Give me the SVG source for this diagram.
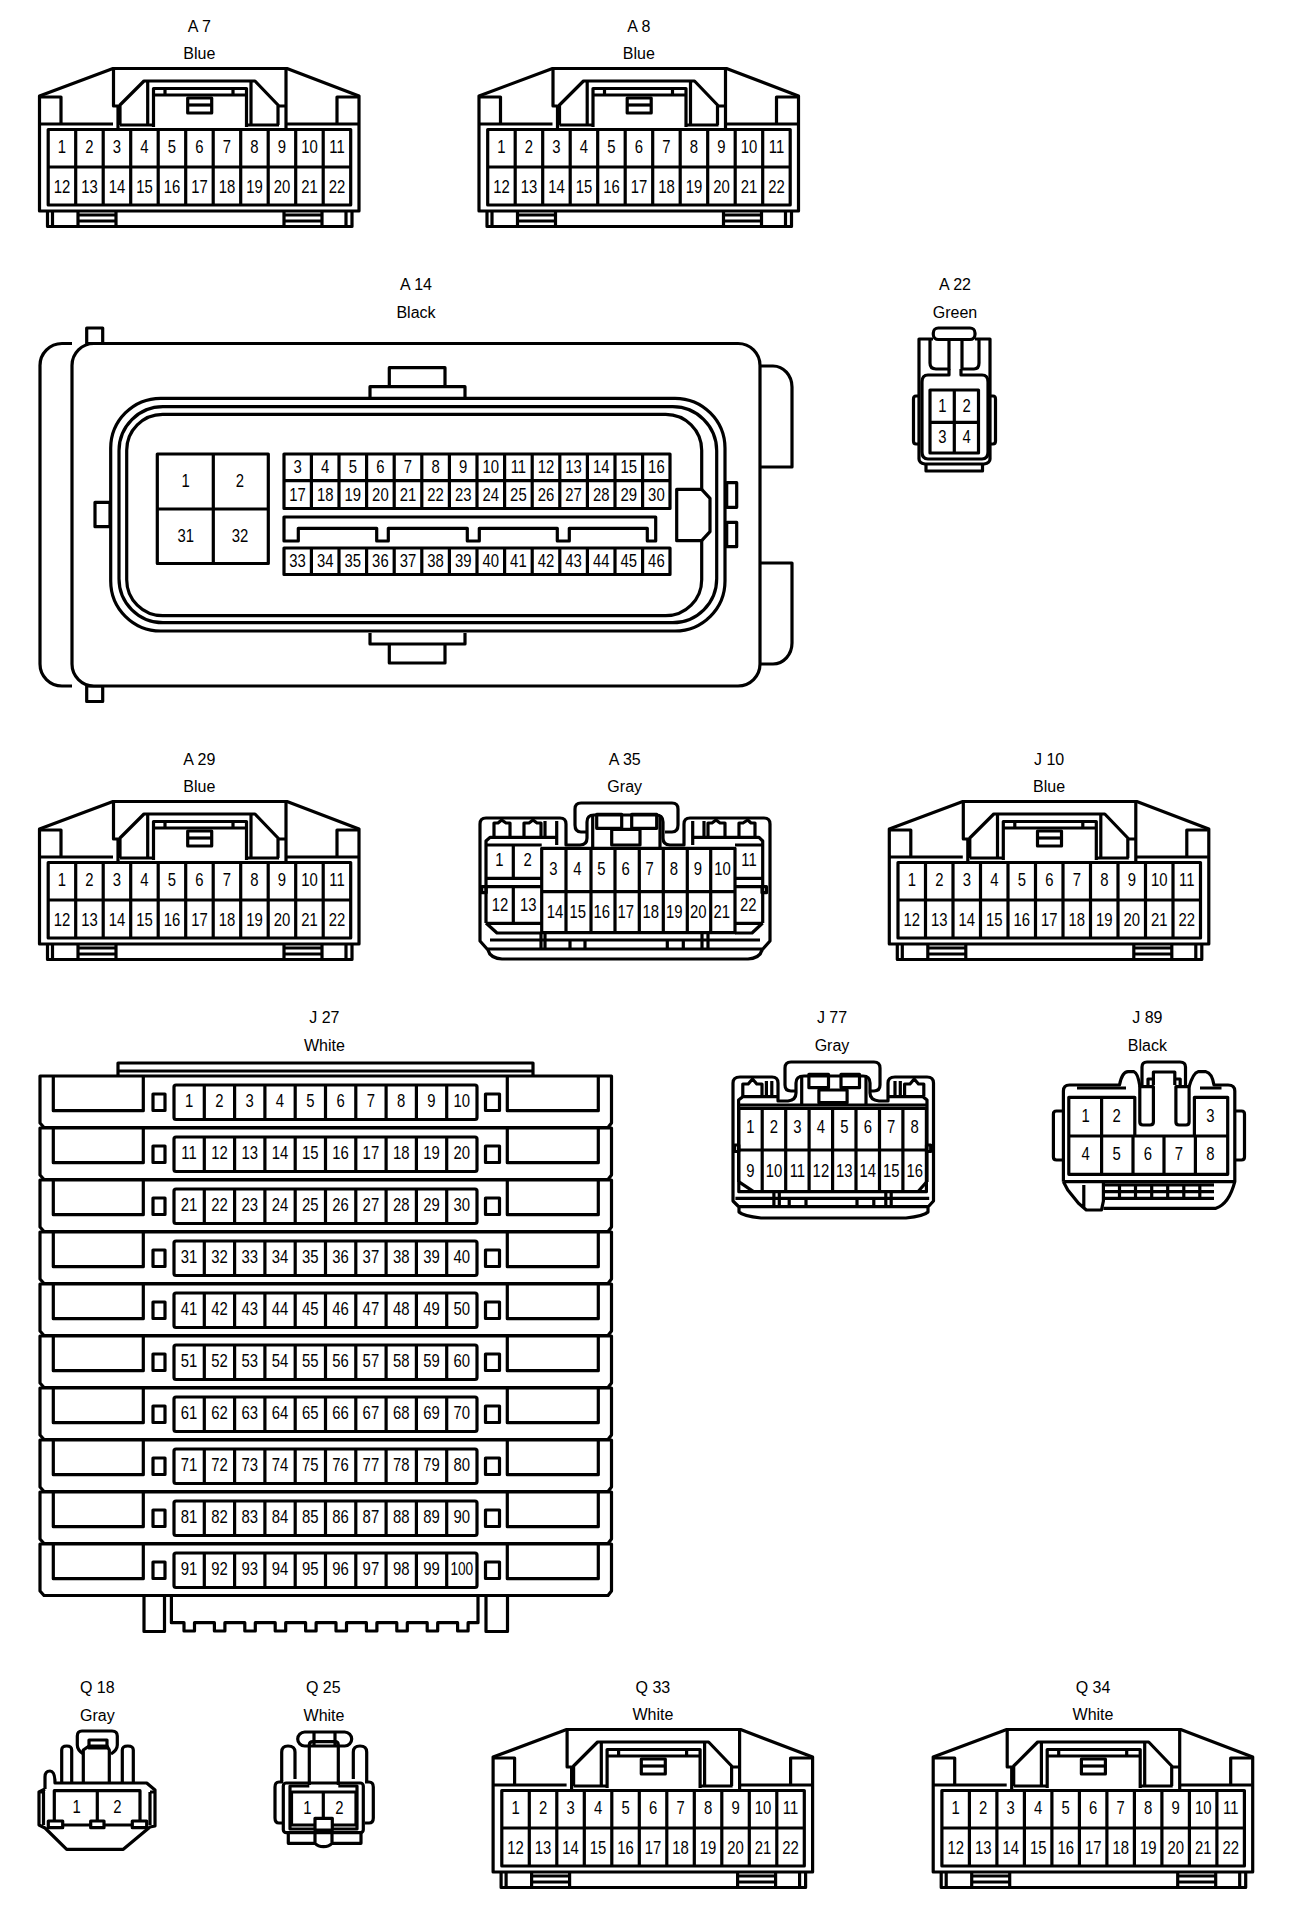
<svg xmlns="http://www.w3.org/2000/svg" xmlns:xlink="http://www.w3.org/1999/xlink" width="1312" height="1914" viewBox="0 0 1312 1914">
<style>
.l{fill:none;stroke:#000;stroke-width:3.2;stroke-linejoin:round}
.w{fill:#fff;stroke:#000;stroke-width:3.2;stroke-linejoin:round}
text{font-family:"Liberation Sans",Arial,sans-serif;fill:#000;text-anchor:middle}
.n{font-size:16px}
.p{font-size:17.5px;transform-box:fill-box;transform-origin:center;transform:scaleX(.85)}
.s{font-size:17.5px;transform-box:fill-box;transform-origin:center;transform:scaleX(.78)}
</style>
<defs>
<g id="c22">
<path class="l" d="M39.500 211V96L113 68.500H287L359 96V211Z"/>
<path class="l" d="M47.500 211V226.500H352V211M52.500 211V226.500M346 211V226.500M78 211V226.500M116 211V226.500M284 211V226.500M322 211V226.500M78 215H116M78 221H116M284 215H322M284 221H322"/>
<path class="l" d="M40 97H61V124M358 97H337V124M40 124H113M286 124H358"/>
<path class="l" d="M113.500 70V106H118V128M286 70V128M286 106H279"/>
<path class="l" d="M120 125V105L144 81H255L278 105V125M120 125H153M246 125H279M147.700 81V125M251 81V125"/>
<path class="l" d="M153.500 127V88.500H246.500V127M153.500 95H246.500M165 88.500V95M233 88.500V95"/>
<rect class="l" x="187.700" y="98" width="24" height="15"/>
<path class="l" d="M187.700 105H211.700"/>
<rect class="l" x="48.200" y="129.500" width="302.500" height="75.500"/>
<path class="l" d="M48.200 167H350.700M75.700 129.500V205M103.200 129.500V205M130.700 129.500V205M158.200 129.500V205M185.700 129.500V205M213.200 129.500V205M240.700 129.500V205M268.200 129.500V205M295.700 129.500V205M323.200 129.500V205"/>
</g>
<g id="jrow">
<path class="l" d="M40 1076H611.500V1123L608 1127.500H44L40 1123Z"/>
<path class="l" d="M53.300 1077V1110.700H143.300V1077M507.300 1077V1110.700H598.300V1077"/>
<rect class="l" x="153" y="1094" width="12" height="16.500"/>
<rect class="l" x="485.500" y="1094" width="14" height="16.500"/>
<rect class="l" x="174" y="1085" width="303" height="34.500" rx="2"/>
<path class="l" d="M204.300 1085V1119.500M234.600 1085V1119.500M264.900 1085V1119.500M295.200 1085V1119.500M325.500 1085V1119.500M355.800 1085V1119.500M386.100 1085V1119.500M416.400 1085V1119.500M446.700 1085V1119.500"/>
</g>
</defs>

<g id="A7">
<use href="#c22"/>
<text class="n" x="199.300" y="31.700">A 7</text><text class="n" x="199.300" y="59.300">Blue</text>
<text class="p" x="62" y="152.700">1</text><text class="p" x="89.500" y="152.700">2</text><text class="p" x="117" y="152.700">3</text><text class="p" x="144.500" y="152.700">4</text><text class="p" x="172" y="152.700">5</text><text class="p" x="199.500" y="152.700">6</text><text class="p" x="227" y="152.700">7</text><text class="p" x="254.500" y="152.700">8</text><text class="p" x="282" y="152.700">9</text><text class="p" x="309.500" y="152.700">10</text><text class="p" x="337" y="152.700">11</text>
<text class="p" x="62" y="192.700">12</text><text class="p" x="89.500" y="192.700">13</text><text class="p" x="117" y="192.700">14</text><text class="p" x="144.500" y="192.700">15</text><text class="p" x="172" y="192.700">16</text><text class="p" x="199.500" y="192.700">17</text><text class="p" x="227" y="192.700">18</text><text class="p" x="254.500" y="192.700">19</text><text class="p" x="282" y="192.700">20</text><text class="p" x="309.500" y="192.700">21</text><text class="p" x="337" y="192.700">22</text>
</g>
<g id="A8" transform="translate(439.500 0)">
<use href="#c22"/>
<text class="n" x="199.300" y="31.700">A 8</text><text class="n" x="199.300" y="59.300">Blue</text>
<text class="p" x="62" y="152.700">1</text><text class="p" x="89.500" y="152.700">2</text><text class="p" x="117" y="152.700">3</text><text class="p" x="144.500" y="152.700">4</text><text class="p" x="172" y="152.700">5</text><text class="p" x="199.500" y="152.700">6</text><text class="p" x="227" y="152.700">7</text><text class="p" x="254.500" y="152.700">8</text><text class="p" x="282" y="152.700">9</text><text class="p" x="309.500" y="152.700">10</text><text class="p" x="337" y="152.700">11</text>
<text class="p" x="62" y="192.700">12</text><text class="p" x="89.500" y="192.700">13</text><text class="p" x="117" y="192.700">14</text><text class="p" x="144.500" y="192.700">15</text><text class="p" x="172" y="192.700">16</text><text class="p" x="199.500" y="192.700">17</text><text class="p" x="227" y="192.700">18</text><text class="p" x="254.500" y="192.700">19</text><text class="p" x="282" y="192.700">20</text><text class="p" x="309.500" y="192.700">21</text><text class="p" x="337" y="192.700">22</text>
</g>
<g id="A29" transform="translate(0 733)">
<use href="#c22"/>
<text class="n" x="199.300" y="31.700">A 29</text><text class="n" x="199.300" y="59.300">Blue</text>
<text class="p" x="62" y="152.700">1</text><text class="p" x="89.500" y="152.700">2</text><text class="p" x="117" y="152.700">3</text><text class="p" x="144.500" y="152.700">4</text><text class="p" x="172" y="152.700">5</text><text class="p" x="199.500" y="152.700">6</text><text class="p" x="227" y="152.700">7</text><text class="p" x="254.500" y="152.700">8</text><text class="p" x="282" y="152.700">9</text><text class="p" x="309.500" y="152.700">10</text><text class="p" x="337" y="152.700">11</text>
<text class="p" x="62" y="192.700">12</text><text class="p" x="89.500" y="192.700">13</text><text class="p" x="117" y="192.700">14</text><text class="p" x="144.500" y="192.700">15</text><text class="p" x="172" y="192.700">16</text><text class="p" x="199.500" y="192.700">17</text><text class="p" x="227" y="192.700">18</text><text class="p" x="254.500" y="192.700">19</text><text class="p" x="282" y="192.700">20</text><text class="p" x="309.500" y="192.700">21</text><text class="p" x="337" y="192.700">22</text>
</g>
<g id="J10" transform="translate(849.800 733)">
<use href="#c22"/>
<text class="n" x="199.300" y="31.700">J 10</text><text class="n" x="199.300" y="59.300">Blue</text>
<text class="p" x="62" y="152.700">1</text><text class="p" x="89.500" y="152.700">2</text><text class="p" x="117" y="152.700">3</text><text class="p" x="144.500" y="152.700">4</text><text class="p" x="172" y="152.700">5</text><text class="p" x="199.500" y="152.700">6</text><text class="p" x="227" y="152.700">7</text><text class="p" x="254.500" y="152.700">8</text><text class="p" x="282" y="152.700">9</text><text class="p" x="309.500" y="152.700">10</text><text class="p" x="337" y="152.700">11</text>
<text class="p" x="62" y="192.700">12</text><text class="p" x="89.500" y="192.700">13</text><text class="p" x="117" y="192.700">14</text><text class="p" x="144.500" y="192.700">15</text><text class="p" x="172" y="192.700">16</text><text class="p" x="199.500" y="192.700">17</text><text class="p" x="227" y="192.700">18</text><text class="p" x="254.500" y="192.700">19</text><text class="p" x="282" y="192.700">20</text><text class="p" x="309.500" y="192.700">21</text><text class="p" x="337" y="192.700">22</text>
</g>
<g id="Q33" transform="translate(453.600 1661)">
<use href="#c22"/>
<text class="n" x="199.300" y="31.700">Q 33</text><text class="n" x="199.300" y="59.300">White</text>
<text class="p" x="62" y="152.700">1</text><text class="p" x="89.500" y="152.700">2</text><text class="p" x="117" y="152.700">3</text><text class="p" x="144.500" y="152.700">4</text><text class="p" x="172" y="152.700">5</text><text class="p" x="199.500" y="152.700">6</text><text class="p" x="227" y="152.700">7</text><text class="p" x="254.500" y="152.700">8</text><text class="p" x="282" y="152.700">9</text><text class="p" x="309.500" y="152.700">10</text><text class="p" x="337" y="152.700">11</text>
<text class="p" x="62" y="192.700">12</text><text class="p" x="89.500" y="192.700">13</text><text class="p" x="117" y="192.700">14</text><text class="p" x="144.500" y="192.700">15</text><text class="p" x="172" y="192.700">16</text><text class="p" x="199.500" y="192.700">17</text><text class="p" x="227" y="192.700">18</text><text class="p" x="254.500" y="192.700">19</text><text class="p" x="282" y="192.700">20</text><text class="p" x="309.500" y="192.700">21</text><text class="p" x="337" y="192.700">22</text>
</g>
<g id="Q34" transform="translate(893.700 1661)">
<use href="#c22"/>
<text class="n" x="199.300" y="31.700">Q 34</text><text class="n" x="199.300" y="59.300">White</text>
<text class="p" x="62" y="152.700">1</text><text class="p" x="89.500" y="152.700">2</text><text class="p" x="117" y="152.700">3</text><text class="p" x="144.500" y="152.700">4</text><text class="p" x="172" y="152.700">5</text><text class="p" x="199.500" y="152.700">6</text><text class="p" x="227" y="152.700">7</text><text class="p" x="254.500" y="152.700">8</text><text class="p" x="282" y="152.700">9</text><text class="p" x="309.500" y="152.700">10</text><text class="p" x="337" y="152.700">11</text>
<text class="p" x="62" y="192.700">12</text><text class="p" x="89.500" y="192.700">13</text><text class="p" x="117" y="192.700">14</text><text class="p" x="144.500" y="192.700">15</text><text class="p" x="172" y="192.700">16</text><text class="p" x="199.500" y="192.700">17</text><text class="p" x="227" y="192.700">18</text><text class="p" x="254.500" y="192.700">19</text><text class="p" x="282" y="192.700">20</text><text class="p" x="309.500" y="192.700">21</text><text class="p" x="337" y="192.700">22</text>
</g>

<g id="A14">
<text class="n" x="416" y="289.700">A 14</text><text class="n" x="416" y="318.300">Black</text>
<rect class="l" x="86.700" y="328" width="16" height="15.500"/>
<rect class="l" x="86.700" y="686" width="16" height="15.500"/>
<rect class="w" x="72" y="343.500" width="688" height="342.500" rx="22"/>
<path class="l" d="M72 343.500H62A22 22 0 0 0 40 366V664A22 22 0 0 0 62 686H72"/>
<path class="l" d="M760 366H773A19 21 0 0 1 792 387V467H760M760 563H792V643A19 21 0 0 1 773 664H760"/>
<path class="l" d="M370 397V386.700H465V397M389.300 386.700V367.700H445V386.700M370 633V644H465V633M389.300 644V663H445V644"/>
<rect class="l" x="95" y="502.300" width="15" height="24.400"/>
<rect class="l" x="726.700" y="482.700" width="10" height="24.600"/>
<rect class="l" x="726.700" y="522.300" width="10" height="24.400"/>
<rect class="l" x="110.700" y="398.300" width="614.300" height="232.700" rx="50"/>
<rect class="l" x="119" y="406.700" width="597.700" height="216" rx="44"/>
<rect class="l" x="126.700" y="414.300" width="575" height="201.400" rx="36"/>
<path class="w" d="M676.700 489.300H701.700L710 498.300V531.700L701.700 540.700H676.700Z"/>
<rect class="l" x="157.300" y="454" width="111" height="109.500"/>
<path class="l" d="M213.300 454V563.500M157.300 509H268.300"/>
<rect class="l" x="284" y="454" width="386" height="54.500"/>
<path class="l" d="M284 480.700H670"/>
<rect class="l" x="284" y="548" width="386" height="26.500"/>
<path class="l" d="M311.400 454V508.500M339 454V508.500M366.600 454V508.500M394.200 454V508.500M421.800 454V508.500M449.400 454V508.500M477 454V508.500M504.600 454V508.500M532.200 454V508.500M559.800 454V508.500M587.400 454V508.500M615 454V508.500M642.600 454V508.500M311.400 548V574.500M339 548V574.500M366.600 548V574.500M394.200 548V574.500M421.800 548V574.500M449.400 548V574.500M477 548V574.500M504.600 548V574.500M532.200 548V574.500M559.800 548V574.500M587.400 548V574.500M615 548V574.500M642.600 548V574.500"/>
<path class="l" d="M284 517H655.700V541H647.300V528.300H569.300V541H557.300V528.300H479.300V541H467.300V528.300H388.300V541H376.700V528.300H298.300V541H284Z"/>
<text class="p" x="185.700" y="486.700">1</text><text class="p" x="240" y="486.700">2</text><text class="p" x="185.700" y="541.700">31</text><text class="p" x="240" y="541.700">32</text>
<text class="p" x="297.600" y="472.700">3</text><text class="p" x="325.200" y="472.700">4</text><text class="p" x="352.800" y="472.700">5</text><text class="p" x="380.400" y="472.700">6</text><text class="p" x="408" y="472.700">7</text><text class="p" x="435.600" y="472.700">8</text><text class="p" x="463.200" y="472.700">9</text><text class="p" x="490.800" y="472.700">10</text><text class="p" x="518.400" y="472.700">11</text><text class="p" x="546" y="472.700">12</text><text class="p" x="573.600" y="472.700">13</text><text class="p" x="601.200" y="472.700">14</text><text class="p" x="628.800" y="472.700">15</text><text class="p" x="656.400" y="472.700">16</text>
<text class="p" x="297.600" y="501">17</text><text class="p" x="325.200" y="501">18</text><text class="p" x="352.800" y="501">19</text><text class="p" x="380.400" y="501">20</text><text class="p" x="408" y="501">21</text><text class="p" x="435.600" y="501">22</text><text class="p" x="463.200" y="501">23</text><text class="p" x="490.800" y="501">24</text><text class="p" x="518.400" y="501">25</text><text class="p" x="546" y="501">26</text><text class="p" x="573.600" y="501">27</text><text class="p" x="601.200" y="501">28</text><text class="p" x="628.800" y="501">29</text><text class="p" x="656.400" y="501">30</text>
<text class="p" x="297.600" y="567">33</text><text class="p" x="325.200" y="567">34</text><text class="p" x="352.800" y="567">35</text><text class="p" x="380.400" y="567">36</text><text class="p" x="408" y="567">37</text><text class="p" x="435.600" y="567">38</text><text class="p" x="463.200" y="567">39</text><text class="p" x="490.800" y="567">40</text><text class="p" x="518.400" y="567">41</text><text class="p" x="546" y="567">42</text><text class="p" x="573.600" y="567">43</text><text class="p" x="601.200" y="567">44</text><text class="p" x="628.800" y="567">45</text><text class="p" x="656.400" y="567">46</text>
</g>

<g id="A22">
<text class="n" x="955" y="289.700">A 22</text><text class="n" x="955" y="318.300">Green</text>
<rect class="l" x="933.300" y="328" width="41.700" height="11.500" rx="5"/>
<path class="l" d="M933 339H919V459Q919 463 925 464H984Q990 463 990 459V339H975"/>
<path class="l" d="M930 340V363Q930 369 936 369H949V340M962 340V369H974Q979 369 979 363V340"/>
<path class="l" d="M949 369V375H928Q922 375 922 382V452Q922 459 928 459H982Q988 459 988 452V382Q988 375 982 375H961V369"/>
<path class="l" d="M919 396H916Q913.500 396 913.500 399V441Q913.500 444 916 444H919M990 396H993Q995.500 396 995.500 399V441Q995.500 444 993 444H990"/>
<rect class="l" x="930" y="390" width="48.500" height="63"/>
<path class="l" d="M954.300 390V453M930 422.300H978.500"/>
<path class="l" d="M926 465V471H982.500V465"/>
<text class="p" x="942.300" y="411.700">1</text><text class="p" x="966.700" y="411.700">2</text><text class="p" x="942.300" y="442.700">3</text><text class="p" x="966.700" y="442.700">4</text>
</g>

<g id="A35">
<text class="n" x="624.700" y="764.700">A 35</text><text class="n" x="624.700" y="792">Gray</text>
<path class="l" d="M480 941V824Q480 818 486 818H560Q566 818 566 824V845H580Q587 845 587 838V822Q587 815 594 815H656Q663 815 663 822V838Q663 845 670 845H684V824Q684 818 690 818H764Q770 818 770 824V941L762 950Q760 958 748 959H502Q490 958 488 950Z"/>
<path class="l" d="M588 832H581Q575 832 575 825V809Q575 803 581 803H672Q678 803 678 809V825Q678 832 672 832H665"/>
<path class="l" d="M592.700 815V848M660 815V848"/>
<rect class="l" x="596.700" y="814.300" width="25" height="14"/>
<rect class="l" x="631.700" y="814.300" width="25" height="14"/>
<rect class="l" x="611.700" y="829.300" width="28.300" height="15.700"/>
<path class="l" d="M494 837V823H498L501.700 820L506 823H510V837M524 837V823H529L533 820L537 823H541V837M545 821V837M556.700 821V845M708 837V823H712L716 820L720 823H725V837M739 837V823H743L747.700 820L751 823H755V837M704 821V837M692.700 821V845"/>
<path class="l" d="M486 923V841L490 837.300H556.700M692.700 837.300H759L762.700 841V923"/>
<path class="l" d="M486 845H541.700M486 878.300H541.700M486 886.700H541.700M486 923.300H541.700M513.300 845V878.300M513.300 886.700V923.300M735 845H762.700M735 878.300H762.700M735 886.700H762.700M735 923.300H762.700"/>
<rect class="l" x="541.700" y="848.300" width="193.300" height="84.400"/>
<path class="l" d="M541.700 891.700H735M566 848.300V932.700M591 848.300V932.700M615 848.300V932.700M639.300 848.300V932.700M663.300 848.300V932.700M687.300 848.300V932.700M710.700 848.300V932.700"/>
<path class="l" d="M486 923L497 933H541M735 933H752L762.700 923M490 940H760M488 949H762M541 933V949M545 933V949M570 940V949M585 940V949M667.300 940V949M683.300 940V949M702 933V949M708 933V949"/>
<rect class="l" x="481.700" y="886.700" width="4.500" height="6"/>
<rect class="l" x="762" y="886.700" width="4.500" height="6"/>
<text class="p" x="499.300" y="866">1</text><text class="p" x="527.700" y="866">2</text><text class="p" x="553.300" y="875">3</text><text class="p" x="577.400" y="875">4</text><text class="p" x="601.500" y="875">5</text><text class="p" x="625.600" y="875">6</text><text class="p" x="649.700" y="875">7</text><text class="p" x="673.800" y="875">8</text><text class="p" x="697.900" y="875">9</text><text class="p" x="722.500" y="875">10</text><text class="p" x="749" y="866">11</text>
<text class="p" x="500" y="911">12</text><text class="p" x="528.300" y="911">13</text><text class="p" x="555" y="917.700">14</text><text class="p" x="577.700" y="917.700">15</text><text class="p" x="601.700" y="917.700">16</text><text class="p" x="625.700" y="917.700">17</text><text class="p" x="650.700" y="917.700">18</text><text class="p" x="674.300" y="917.700">19</text><text class="p" x="698.300" y="917.700">20</text><text class="p" x="721.700" y="917.700">21</text><text class="p" x="748.300" y="911">22</text>
</g>

<g id="J27">
<text class="n" x="324.400" y="1023.300">J 27</text><text class="n" x="324.400" y="1051">White</text>
<path class="l" d="M118 1076V1063H533V1076M118 1071H533"/>
<use href="#jrow"/><use href="#jrow" y="52"/><use href="#jrow" y="104"/><use href="#jrow" y="156"/><use href="#jrow" y="208"/><use href="#jrow" y="260"/><use href="#jrow" y="312"/><use href="#jrow" y="364"/><use href="#jrow" y="416"/><use href="#jrow" y="468"/>
<path class="l" d="M144 1596V1631.500H164.500V1596M486 1596V1631.500H507.500V1596"/>
<path class="l" d="M171.400 1596V1622.700H184V1631H194.500V1622.700H214.400V1631H224.900V1622.700H244.800V1631H255.300V1622.700H275.200V1631H285.700V1622.700H305.600V1631H316.100V1622.700H336V1631H346.500V1622.700H366.400V1631H376.900V1622.700H396.800V1631H407.300V1622.700H427.200V1631H437.700V1622.700H457.600V1631H468.100V1622.700H478V1596"/>
<text class="p" x="189.100" y="1107.300">1</text><text class="p" x="219.400" y="1107.300">2</text><text class="p" x="249.700" y="1107.300">3</text><text class="p" x="280" y="1107.300">4</text><text class="p" x="310.300" y="1107.300">5</text><text class="p" x="340.600" y="1107.300">6</text><text class="p" x="370.900" y="1107.300">7</text><text class="p" x="401.200" y="1107.300">8</text><text class="p" x="431.500" y="1107.300">9</text><text class="p" x="461.800" y="1107.300">10</text>
<text class="p" x="189.100" y="1159.300">11</text><text class="p" x="219.400" y="1159.300">12</text><text class="p" x="249.700" y="1159.300">13</text><text class="p" x="280" y="1159.300">14</text><text class="p" x="310.300" y="1159.300">15</text><text class="p" x="340.600" y="1159.300">16</text><text class="p" x="370.900" y="1159.300">17</text><text class="p" x="401.200" y="1159.300">18</text><text class="p" x="431.500" y="1159.300">19</text><text class="p" x="461.800" y="1159.300">20</text>
<text class="p" x="189.100" y="1211.300">21</text><text class="p" x="219.400" y="1211.300">22</text><text class="p" x="249.700" y="1211.300">23</text><text class="p" x="280" y="1211.300">24</text><text class="p" x="310.300" y="1211.300">25</text><text class="p" x="340.600" y="1211.300">26</text><text class="p" x="370.900" y="1211.300">27</text><text class="p" x="401.200" y="1211.300">28</text><text class="p" x="431.500" y="1211.300">29</text><text class="p" x="461.800" y="1211.300">30</text>
<text class="p" x="189.100" y="1263.300">31</text><text class="p" x="219.400" y="1263.300">32</text><text class="p" x="249.700" y="1263.300">33</text><text class="p" x="280" y="1263.300">34</text><text class="p" x="310.300" y="1263.300">35</text><text class="p" x="340.600" y="1263.300">36</text><text class="p" x="370.900" y="1263.300">37</text><text class="p" x="401.200" y="1263.300">38</text><text class="p" x="431.500" y="1263.300">39</text><text class="p" x="461.800" y="1263.300">40</text>
<text class="p" x="189.100" y="1315.300">41</text><text class="p" x="219.400" y="1315.300">42</text><text class="p" x="249.700" y="1315.300">43</text><text class="p" x="280" y="1315.300">44</text><text class="p" x="310.300" y="1315.300">45</text><text class="p" x="340.600" y="1315.300">46</text><text class="p" x="370.900" y="1315.300">47</text><text class="p" x="401.200" y="1315.300">48</text><text class="p" x="431.500" y="1315.300">49</text><text class="p" x="461.800" y="1315.300">50</text>
<text class="p" x="189.100" y="1367.300">51</text><text class="p" x="219.400" y="1367.300">52</text><text class="p" x="249.700" y="1367.300">53</text><text class="p" x="280" y="1367.300">54</text><text class="p" x="310.300" y="1367.300">55</text><text class="p" x="340.600" y="1367.300">56</text><text class="p" x="370.900" y="1367.300">57</text><text class="p" x="401.200" y="1367.300">58</text><text class="p" x="431.500" y="1367.300">59</text><text class="p" x="461.800" y="1367.300">60</text>
<text class="p" x="189.100" y="1419.300">61</text><text class="p" x="219.400" y="1419.300">62</text><text class="p" x="249.700" y="1419.300">63</text><text class="p" x="280" y="1419.300">64</text><text class="p" x="310.300" y="1419.300">65</text><text class="p" x="340.600" y="1419.300">66</text><text class="p" x="370.900" y="1419.300">67</text><text class="p" x="401.200" y="1419.300">68</text><text class="p" x="431.500" y="1419.300">69</text><text class="p" x="461.800" y="1419.300">70</text>
<text class="p" x="189.100" y="1471.300">71</text><text class="p" x="219.400" y="1471.300">72</text><text class="p" x="249.700" y="1471.300">73</text><text class="p" x="280" y="1471.300">74</text><text class="p" x="310.300" y="1471.300">75</text><text class="p" x="340.600" y="1471.300">76</text><text class="p" x="370.900" y="1471.300">77</text><text class="p" x="401.200" y="1471.300">78</text><text class="p" x="431.500" y="1471.300">79</text><text class="p" x="461.800" y="1471.300">80</text>
<text class="p" x="189.100" y="1523.300">81</text><text class="p" x="219.400" y="1523.300">82</text><text class="p" x="249.700" y="1523.300">83</text><text class="p" x="280" y="1523.300">84</text><text class="p" x="310.300" y="1523.300">85</text><text class="p" x="340.600" y="1523.300">86</text><text class="p" x="370.900" y="1523.300">87</text><text class="p" x="401.200" y="1523.300">88</text><text class="p" x="431.500" y="1523.300">89</text><text class="p" x="461.800" y="1523.300">90</text>
<text class="p" x="189.100" y="1575.300">91</text><text class="p" x="219.400" y="1575.300">92</text><text class="p" x="249.700" y="1575.300">93</text><text class="p" x="280" y="1575.300">94</text><text class="p" x="310.300" y="1575.300">95</text><text class="p" x="340.600" y="1575.300">96</text><text class="p" x="370.900" y="1575.300">97</text><text class="p" x="401.200" y="1575.300">98</text><text class="p" x="431.500" y="1575.300">99</text><text class="s" x="461.800" y="1575.300">100</text>
</g>

<g id="J77">
<text class="n" x="832" y="1023.300">J 77</text><text class="n" x="832" y="1051">Gray</text>
<path class="l" d="M733 1201V1083Q733 1077 740 1077H772Q778 1077 778 1083V1101H788Q796 1100 796 1093V1083Q796 1076 804 1076H863Q870 1076 870 1083V1093Q870 1100 879 1101H888V1083Q888 1077 895 1077H927Q933.500 1077 933.500 1083V1201L928 1207V1212Q924 1216 906 1218H761Q743 1216 739 1212V1207Z"/>
<path class="l" d="M796 1091H791Q785 1091 785 1085V1068Q785 1062 791 1062H874Q880 1062 880 1068V1085Q880 1091 874 1091H870"/>
<path class="l" d="M801.700 1076V1105M866 1076V1105"/>
<rect class="l" x="808.900" y="1074.300" width="19.600" height="13.400"/>
<rect class="l" x="841" y="1074.300" width="18.500" height="13.400"/>
<rect class="l" x="818.900" y="1090" width="28.200" height="12.700"/>
<path class="l" d="M742.800 1096V1084H748.200L752.500 1079L756.800 1084H762V1096M766.400 1081V1096M771.800 1081V1096M904.600 1096V1084H910L914.200 1079L918.500 1084H923.800V1096M900.300 1081V1096M895 1081V1096"/>
<path class="l" d="M738.600 1182V1100L742.800 1096.700H778M888.500 1096.700H923L927 1100V1182M738.600 1105H927"/>
<rect class="l" x="738.800" y="1108.300" width="187.600" height="83.400"/>
<path class="l" d="M738.800 1150H926.400M762.200 1108.300V1191.700M785.700 1108.300V1191.700M809.100 1108.300V1191.700M832.600 1108.300V1191.700M856 1108.300V1191.700M879.500 1108.300V1191.700M902.900 1108.300V1191.700"/>
<path class="l" d="M738.600 1181.700L753.600 1191.700M926.700 1181.700L917.900 1191.700M735.400 1198.300H929.200M738.600 1206.700H928M773.900 1191.700V1206.700M779.300 1191.700V1206.700M885.800 1191.700V1206.700M891.200 1191.700V1206.700M789.200 1198.300V1206.700M806 1198.300V1206.700M857 1198.300V1206.700M873.800 1198.300V1206.700"/>
<rect class="l" x="734.600" y="1145" width="4.200" height="6.500"/>
<rect class="l" x="926.500" y="1145" width="4.200" height="6.500"/>
<text class="p" x="750.500" y="1133.300">1</text><text class="p" x="774" y="1133.300">2</text><text class="p" x="797.400" y="1133.300">3</text><text class="p" x="820.900" y="1133.300">4</text><text class="p" x="844.300" y="1133.300">5</text><text class="p" x="867.800" y="1133.300">6</text><text class="p" x="891.200" y="1133.300">7</text><text class="p" x="914.700" y="1133.300">8</text>
<text class="p" x="750.500" y="1177.300">9</text><text class="p" x="774" y="1177.300">10</text><text class="p" x="797.400" y="1177.300">11</text><text class="p" x="820.900" y="1177.300">12</text><text class="p" x="844.300" y="1177.300">13</text><text class="p" x="867.800" y="1177.300">14</text><text class="p" x="891.200" y="1177.300">15</text><text class="p" x="914.700" y="1177.300">16</text>
</g>

<g id="J89">
<text class="n" x="1147.400" y="1023.300">J 89</text><text class="n" x="1147.400" y="1051">Black</text>
<path class="l" d="M1063.400 1181.700V1091Q1063.400 1085 1069.500 1085H1119.500Q1122 1072 1128 1071.700H1134Q1138 1073 1140 1087M1189 1087Q1193 1073 1198 1071.700H1206Q1212 1073 1214 1085H1228Q1234.800 1085 1234.800 1091V1181.700Q1229 1204 1215.900 1208.300H1103.400"/>
<path class="l" d="M1142 1087V1067Q1142 1062 1147 1062H1180Q1185.500 1062 1185.500 1067V1087"/>
<path class="l" d="M1153.400 1085V1072H1174.800V1085M1148 1085V1079H1153.400M1180.200 1085V1079H1174.800"/>
<path class="w" d="M1139.800 1086.700H1153.400V1122Q1153.400 1125 1150 1125H1143Q1139.800 1125 1139.800 1122ZM1175.900 1086.700H1189.100V1122Q1189.100 1125 1186 1125H1179Q1175.900 1125 1175.900 1122Z"/>
<path class="l" d="M1077 1088H1126M1200 1088H1221.500"/>
<path class="l" d="M1063.400 1111H1056.500Q1053.400 1111 1053.400 1114V1157Q1053.400 1160 1056.500 1160H1063.400M1234.800 1111H1241.500Q1244.500 1111 1244.500 1114V1157Q1244.500 1160 1241.500 1160H1234.800"/>
<path class="l" d="M1068.800 1136V1097.300H1134.800V1136M1101.600 1097.300V1174.300M1194.400 1136V1097.300H1227.700V1136M1068.800 1136H1227.700V1174.300H1068.800ZM1133 1136V1174.300M1164 1136V1174.300M1195.400 1136V1174.300"/>
<path class="l" d="M1063.400 1181.700H1234.800M1063.400 1181.700L1067.800 1190L1078.500 1203.300L1086.300 1210H1101.500L1103.400 1201V1182M1083.800 1185V1207M1103.400 1185H1214M1103.400 1191.700H1214M1103.400 1198.300H1214M1119.500 1185V1198.300M1135.500 1185V1198.300M1151.700 1185V1198.300M1167.700 1185V1198.300M1183.800 1185V1198.300M1199.800 1185V1198.300"/>
<text class="p" x="1085.600" y="1121.700">1</text><text class="p" x="1116.700" y="1121.700">2</text><text class="p" x="1210.500" y="1121.700">3</text><text class="p" x="1085.600" y="1160">4</text><text class="p" x="1116.700" y="1160">5</text><text class="p" x="1148" y="1160">6</text><text class="p" x="1179" y="1160">7</text><text class="p" x="1210.500" y="1160">8</text>
</g>

<g id="Q18">
<text class="n" x="97.300" y="1692.700">Q 18</text><text class="n" x="97.300" y="1720.700">Gray</text>
<path class="l" d="M83.300 1754Q77.300 1750 77.300 1745V1736Q77.300 1731 82 1731H112Q117.300 1731 117.300 1736V1745Q117.300 1750 111 1754"/>
<rect class="l" x="89" y="1740" width="18" height="8"/>
<path class="l" d="M83.300 1783.300V1750L89 1746H107L109.300 1750V1783.300"/>
<path class="l" d="M61.700 1783V1750Q61.700 1746 66.700 1746Q71.700 1746 71.700 1750V1783M122.300 1783V1750Q122.300 1746 127.800 1746Q133.300 1746 133.300 1750V1783"/>
<path class="l" d="M45 1789V1777Q45 1771 50 1771Q55 1771 55 1783H146.700L155 1790V1826L150 1827L123.300 1849.300H66.700L45 1828L39 1825V1792L45 1789"/>
<path class="l" d="M39 1792H45M43.500 1792V1825M150 1792V1825M155 1792H150"/>
<rect class="l" x="54.300" y="1790.700" width="85.700" height="34.300"/>
<path class="l" d="M97.300 1790.700V1825"/>
<rect class="w" x="48.300" y="1821" width="14.400" height="6.700"/>
<rect class="w" x="90.700" y="1821" width="13.300" height="6.700"/>
<rect class="w" x="132.300" y="1821" width="14.400" height="6.700"/>
<text class="p" x="76.700" y="1813.300">1</text><text class="p" x="117.300" y="1813.300">2</text>
</g>

<g id="Q25">
<text class="n" x="323.300" y="1692.700">Q 25</text><text class="n" x="324" y="1720.700">White</text>
<rect class="l" x="297.700" y="1732" width="54" height="14" rx="7"/>
<path class="l" d="M314 1733V1746M335 1733V1746"/>
<path class="l" d="M309.300 1785V1745Q309.300 1741.700 313 1741.700H335Q338.300 1741.700 338.300 1745V1785"/>
<path class="l" d="M281.700 1781V1752Q281.700 1746 288 1746Q295 1746 295 1752V1779M366.700 1781V1752Q366.700 1746 360 1746Q353.300 1746 353.300 1752V1779"/>
<rect class="l" x="283.300" y="1783" width="80" height="49.700" rx="3"/>
<path class="l" d="M309.300 1786H290V1829H357V1786H338.300"/>
<rect class="l" x="291.500" y="1792" width="64.500" height="33"/>
<path class="l" d="M323.300 1792V1825"/>
<path class="l" d="M283.300 1782H279Q275 1782 275 1787V1818Q275 1823 279 1823H283.300M365 1782H369Q373.300 1782 373.300 1787V1818Q373.300 1823 369 1823H365"/>
<rect class="w" x="315" y="1818.300" width="17.300" height="11.700"/>
<path class="l" d="M288.300 1833V1843.300H315Q318 1846.700 323.500 1846.700Q329 1846.700 332 1843.300H361V1833M315 1833V1843.300M332 1833V1843.300"/>
<text class="p" x="307.300" y="1814.300">1</text><text class="p" x="339.300" y="1814.300">2</text>
</g>
</svg>
